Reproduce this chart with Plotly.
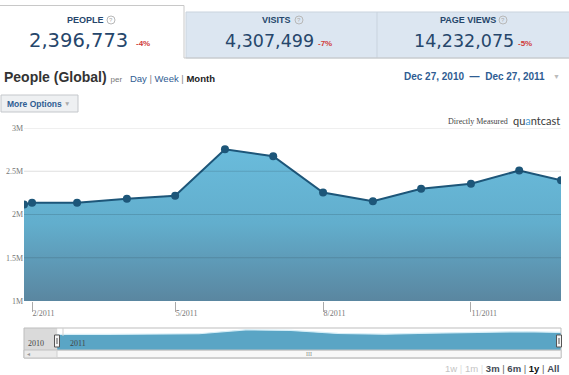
import plotly.graph_objects as go

# ---------------- data ----------------
dates = ["2011-01-27", "2011-02-01", "2011-03-01", "2011-04-01", "2011-05-01", "2011-06-01",
         "2011-07-01", "2011-08-01", "2011-09-01", "2011-10-01", "2011-11-01", "2011-12-01",
         "2011-12-27"]
people = [2116000, 2136000, 2136000, 2182000, 2217000, 2753000, 2673000,
          2255000, 2154000, 2297000, 2355000, 2508000, 2396773]
y_ticks = [1000000, 1500000, 2000000, 2500000, 3000000]
y_labels = ["1M", "1.5M", "2M", "2.5M", "3M"]
x_ticks = ["2011-02-01", "2011-05-01", "2011-08-01", "2011-11-01"]
x_labels = ["2/2011", "5/2011", "8/2011", "11/2011"]
tab_titles = ["PEOPLE", "VISITS", "PAGE VIEWS"]
tab_values = ["2,396,773", "4,307,499", "14,232,075"]
tab_changes = ["-4%", "-7%", "-5%"]
range_buttons = ["1w", "1m", "3m", "6m", "1y", "All"]
nav_years = ["2010", "2011"]
nav_start = "2011-01-05"
date_from, date_to = "Dec 27, 2010", "Dec 27, 2011"

# ---------------- geometry helpers (pixel -> paper) ----------------
W, H = 569, 375
L, R, T, B = 24, 8, 128, 17
PW, PH = W - L - R, H - T - B          # 537 x 230


def px(x):
    return (x - L) / PW


def py(y):
    return (H - B - y) / PH


SANS = "Liberation Sans, Arial, sans-serif"
SERIF = "Liberation Serif, Times New Roman, serif"
NUM = "DejaVu Sans, sans-serif"
NAVY = "#26466b"
LINK = "#2f5d93"

fig = go.Figure()

# main filled area
fig.add_trace(go.Scatter(
    x=dates, y=people, mode="lines+markers",
    line=dict(color="#1d5679", width=2),
    marker=dict(size=8, color="#1d5679"),
    fill="tozeroy",
    fillgradient=dict(type="vertical",
                      colorscale=[[0, "#5a86a0"], [0.5, "#62aecd"], [1, "#6abcdc"]],
                      start=1000000, stop=2800000),
    showlegend=False))

# navigator area
fig.add_trace(go.Scatter(
    x=dates, y=people, xaxis="x2", yaxis="y2", mode="lines",
    line=dict(color="#d6eef7", width=1.2), fill="tozeroy", fillcolor="#5aa5c5",
    hoverinfo="skip", showlegend=False))

shapes = []
# grid lines drawn above the fill
for v in y_ticks[1:]:
    shapes.append(dict(type="line", xref="x domain", yref="y", x0=0, x1=1, y0=v, y1=v,
                       line=dict(color="rgba(0,0,0,0.13)", width=1), layer="above"))

# ---- header tabs ----
shapes.append(dict(type="rect", xref="paper", yref="paper", x0=px(186), x1=px(570),
                   y0=py(58), y1=py(12), fillcolor="#dce6f1",
                   line=dict(color="#c9d3de", width=1)))
shapes.append(dict(type="line", xref="paper", yref="paper", x0=px(377), x1=px(377),
                   y0=py(58), y1=py(12), line=dict(color="#c9d3de", width=1)))
shapes.append(dict(type="path", xref="paper", yref="paper",
                   path="M %f,%f L %f,%f L %f,%f L %f,%f" % (px(-2), py(5.5), px(184), py(5.5),
                                                             px(184), py(58), px(570), py(58)),
                   line=dict(color="#c8c8c8", width=1)))
icon_x = [111, 299, 503]
for ix in icon_x:
    shapes.append(dict(type="circle", xref="paper", yref="paper",
                       x0=px(ix - 4), x1=px(ix + 4), y0=py(24), y1=py(16),
                       line=dict(color="#b8b8b8", width=1), fillcolor="rgba(0,0,0,0)"))

# ---- More Options button ----
shapes.append(dict(type="rect", xref="paper", yref="paper", x0=px(1), x1=px(78),
                   y0=py(112), y1=py(95), fillcolor="#eef0f2",
                   line=dict(color="#c4c7cb", width=1)))

# ---- navigator frame, unselected part, handles, scrollbar ----
shapes.append(dict(type="rect", xref="x2", yref="y2 domain", x0=nav_start, x1=dates[0],
                   y0=0, y1=1, fillcolor="#dadada", line=dict(width=0), layer="below"))
shapes.append(dict(type="rect", xref="paper", yref="paper", x0=px(24), x1=px(561),
                   y0=py(358), y1=py(328), fillcolor="rgba(0,0,0,0)",
                   line=dict(color="#bdbdbd", width=1)))
shapes.append(dict(type="rect", xref="paper", yref="paper", x0=px(24), x1=px(561),
                   y0=py(358), y1=py(350), fillcolor="#eaeaea",
                   line=dict(color="#c0c0c0", width=1)))
shapes.append(dict(type="rect", xref="paper", yref="paper", x0=px(57), x1=px(561),
                   y0=py(357.5), y1=py(350.5), fillcolor="#f8f8f8",
                   line=dict(color="#d0d0d0", width=1)))
shapes.append(dict(type="line", xref="paper", yref="paper", x0=px(63), x1=px(63),
                   y0=py(336), y1=py(328), line=dict(color="#cfcfcf", width=1)))
for hx in [57, 559]:
    shapes.append(dict(type="rect", xref="paper", yref="paper", x0=px(hx - 2.5), x1=px(hx + 2.5),
                       y0=py(347), y1=py(335), fillcolor="#f4f4f4",
                       line=dict(color="#555555", width=1)))
    shapes.append(dict(type="line", xref="paper", yref="paper", x0=px(hx), x1=px(hx),
                       y0=py(344), y1=py(338), line=dict(color="#555555", width=1)))

annotations = []


def ann(x, y, text, size, color, family=SANS, xanchor="left", yanchor="middle"):
    annotations.append(dict(x=px(x), y=py(y), xref="paper", yref="paper", text=text,
                            showarrow=False, xanchor=xanchor, yanchor=yanchor,
                            font=dict(size=size, color=color, family=family)))


# tab texts
title_x = [65, 260, 438]
num_x = [27, 223, 412]
chg_x = [134, 316, 516]
num_size = [19.5, 17.5, 17.5]
for i in range(3):
    ann(title_x[i], 20, "<b>%s</b>" % tab_titles[i], 9, NAVY)
    ann(icon_x[i], 20, "?", 6, "#aaaaaa", xanchor="center")
    ann(num_x[i], 40.5, tab_values[i], num_size[i], NAVY, family=NUM)
    ann(chg_x[i], 43.5, "<b>%s</b>" % tab_changes[i], 8, "#d03a3a")

# title row
ann(2, 77, "<b>People (Global)</b> <span style='font-size:8px;color:#777'>per</span>  "
           "<span style='font-size:9.5px;color:%s'>Day</span>"
           "<span style='font-size:9.5px;color:#888'> | </span>"
           "<span style='font-size:9.5px;color:%s'>Week</span>"
           "<span style='font-size:9.5px;color:#888'> | </span>"
           "<span style='font-size:9.5px;color:#222'><b>Month</b></span>" % (LINK, LINK),
    14, "#333333")
ann(547, 77, "<b>%s  —  %s</b>" % (date_from, date_to), 10, LINK, xanchor="right")
ann(556, 77, "▼", 7, "#bbbbbb", xanchor="center")

ann(5, 103.5, "<b>More Options</b>", 8.5, LINK)
ann(67, 103.5, "▼", 6.5, "#aaaaaa", xanchor="center")

ann(510, 122, "Directly Measured", 8, "#444444", family=SERIF, xanchor="right")
ann(562, 120.5, "qu<span style='color:#4a9fd6'>a</span>ntcast", 11, "#3a3a3a",
    family="Lato, sans-serif", xanchor="right")

# navigator labels
ann(26, 343, nav_years[0], 8, "#444444", family=SERIF)
ann(68, 343, nav_years[1], 8, "#444444", family=SERIF)
ann(28, 354, "◂", 6, "#999999", xanchor="center")
ann(309, 354, "III", 6, "#888888", family=SERIF, xanchor="center")

# range buttons
btn_colors = ["#c4c4c4", "#c4c4c4", "#444a55", "#444a55", "#111111", "#444a55"]
parts = []
for i, b in enumerate(range_buttons):
    t = b if i < 2 else "<b>%s</b>" % b
    parts.append("<span style='color:%s'>%s</span>" % (btn_colors[i], t))
sep = ["<span style='color:#dddddd'> | </span>"] * 2 + ["<span style='color:#666'> | </span>"] * 3
txt = parts[0]
for i in range(1, len(parts)):
    txt += sep[i - 1] + parts[i]
ann(561, 368, txt, 9.5, "#444", xanchor="right")

fig.update_layout(
    width=W, height=H,
    margin=dict(l=L, r=R, t=T, b=B, autoexpand=False),
    paper_bgcolor="white", plot_bgcolor="rgba(0,0,0,0)",
    showlegend=False,
    shapes=shapes, annotations=annotations,
    xaxis=dict(type="date", range=[dates[0], dates[-1]], anchor="y",
               tickvals=x_ticks, ticktext=x_labels,
               ticks="outside", ticklen=10, tickcolor="#aaaaaa", tickwidth=1,
               ticklabelposition="outside right", ticklabelstandoff=4,
               tickfont=dict(family=SERIF, size=8, color="#777777"),
               showgrid=False, showline=False, zeroline=False),
    yaxis=dict(domain=[py(301), 1], range=[1000000, 3000000], tickvals=y_ticks, ticktext=y_labels,
               tickfont=dict(family=SERIF, size=8, color="#777777"),
               showgrid=False, zeroline=False, showline=False, ticks=""),
    xaxis2=dict(type="date", range=[nav_start, dates[-1]], anchor="y2", visible=False),
    yaxis2=dict(domain=[py(350), py(328)], range=[0, 3000000], anchor="x2", visible=False),
)

fig.write_html("out.html", config={"displayModeBar": False},
               post_script="document.body.style.margin='0';")
